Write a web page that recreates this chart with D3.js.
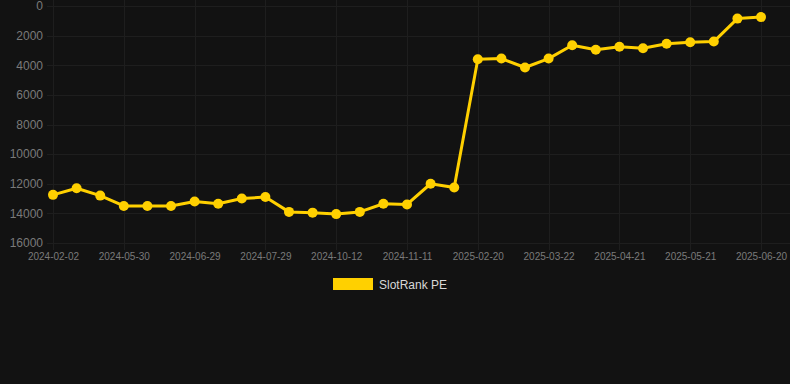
<!DOCTYPE html>
<html>
<head>
<meta charset="utf-8">
<script src="https://cdn.jsdelivr.net/npm/d3@7"></script>
<style>
  html, body { margin: 0; padding: 0; background: #121212; }
  svg { display: block; }
</style>
</head>
<body>
<svg id="chart" width="790" height="384"></svg>
<script>
// categories (every third one is shown on the axis)
var dates = [
  '2024-02-02', '2024-03-20', '2024-04-25',
  '2024-05-30', '2024-06-09', '2024-06-19',
  '2024-06-29', '2024-07-09', '2024-07-19',
  '2024-07-29', '2024-08-28', '2024-09-22',
  '2024-10-12', '2024-10-22', '2024-11-01',
  '2024-11-11', '2024-12-11', '2025-01-20',
  '2025-02-20', '2025-03-02', '2025-03-12',
  '2025-03-22', '2025-04-01', '2025-04-11',
  '2025-04-21', '2025-05-01', '2025-05-11',
  '2025-05-21', '2025-05-31', '2025-06-10',
  '2025-06-20'
];

var rank = [
  12750, 12300, 12800,
  13500, 13500, 13500,
  13200, 13350, 13000,
  12900, 13900, 13950,
  14050, 13900, 13350,
  13400, 12000, 12250,
  3600, 3550, 4150,
  3550, 2650, 2950,
  2750, 2850, 2550,
  2450, 2400, 850,
  750
];

var yTicks = [0, 2000, 4000, 6000, 8000, 10000, 12000, 14000, 16000];
var seriesName = 'SlotRank PE';
var lineColor = '#ffd000';
var gridColor = '#1e1e1e';
var textColor = '#7a7a7a';

var svg = d3.select('#chart');
var plotLeft = 53, plotRight = 761, plotTop = 6, plotBottom = 243;

var x = d3.scalePoint()
    .domain(dates)
    .range([plotLeft, plotRight]);

var y = d3.scaleLinear()
    .domain([0, 16000])
    .range([plotTop, plotBottom]);

// horizontal grid
svg.append('g')
  .selectAll('line')
  .data(yTicks)
  .enter()
  .append('line')
  .attr('x1', plotLeft - 6)
  .attr('x2', 790)
  .attr('y1', function(d){ return Math.round(y(d)) + 0.5; })
  .attr('y2', function(d){ return Math.round(y(d)) + 0.5; })
  .attr('stroke', gridColor)
  .attr('stroke-width', 1);

var shown = dates.filter(function(d, i){ return i % 3 === 0; });

// vertical grid
svg.append('g')
  .selectAll('line')
  .data(shown)
  .enter()
  .append('line')
  .attr('x1', function(d){ return Math.round(x(d)) + 0.5; })
  .attr('x2', function(d){ return Math.round(x(d)) + 0.5; })
  .attr('y1', 0)
  .attr('y2', plotBottom + 7)
  .attr('stroke', gridColor)
  .attr('stroke-width', 1);

// y axis labels
var yAxis = d3.axisLeft(y)
    .tickValues(yTicks)
    .tickFormat(d3.format('d'))
    .tickSize(0)
    .tickPadding(0);

svg.append('g')
  .attr('transform', 'translate(' + (plotLeft - 10) + ',0)')
  .call(yAxis)
  .call(function(g){ g.select('.domain').remove(); })
  .selectAll('text')
  .attr('fill', textColor)
  .style('font-family', 'Liberation Sans, Arial, sans-serif')
  .style('font-size', '12px');

// x axis labels
var xAxis = d3.axisBottom(x)
    .tickValues(shown)
    .tickSize(0)
    .tickPadding(0);

svg.append('g')
  .attr('transform', 'translate(0,' + (plotBottom + 10) + ')')
  .call(xAxis)
  .call(function(g){ g.select('.domain').remove(); })
  .selectAll('text')
  .attr('fill', textColor)
  .style('font-family', 'Liberation Sans, Arial, sans-serif')
  .style('font-size', '10px');

// line
var line = d3.line()
    .x(function(d, i){ return x(dates[i]); })
    .y(function(d){ return y(d); });

svg.append('path')
  .datum(rank)
  .attr('d', line)
  .attr('fill', 'none')
  .attr('stroke', lineColor)
  .attr('stroke-width', 3)
  .attr('stroke-linejoin', 'round');

svg.append('g')
  .selectAll('circle')
  .data(rank)
  .enter()
  .append('circle')
  .attr('cx', function(d, i){ return x(dates[i]); })
  .attr('cy', function(d){ return y(d); })
  .attr('r', 5)
  .attr('fill', lineColor);

// legend
var legend = svg.append('g').attr('transform', 'translate(333,278)');
legend.append('rect')
  .attr('width', 40)
  .attr('height', 12)
  .attr('fill', lineColor);
legend.append('text')
  .attr('x', 46)
  .attr('y', 10.5)
  .attr('fill', '#d8d8d8')
  .style('font-family', 'Liberation Sans, Arial, sans-serif')
  .style('font-size', '12px')
  .text(seriesName);
</script>
</body>
</html>
